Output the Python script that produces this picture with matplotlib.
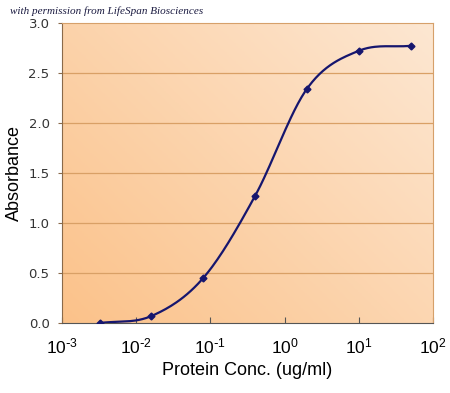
import matplotlib.pyplot as plt
import numpy as np
from matplotlib.colors import LinearSegmentedColormap

# protein concentration (ug/ml) and absorbance
conc = [0.0032, 0.016, 0.08, 0.4, 2.0, 10.0, 50.0]
absorbance = [0.0, 0.07, 0.45, 1.27, 2.34, 2.72, 2.77]

x_ticks = [1e-3, 1e-2, 1e-1, 1e0, 1e1, 1e2]
x_labels = ['$\\mathregular{10^{\\text{-}3}}$', '$\\mathregular{10^{\\text{-}2}}$',
            '$\\mathregular{10^{\\text{-}1}}$', '$\\mathregular{10^{0}}$',
            '$\\mathregular{10^{1}}$', '$\\mathregular{10^{2}}$']
y_ticks = [0.0, 0.5, 1.0, 1.5, 2.0, 2.5, 3.0]


# smoothed line like the spreadsheet one (Catmull-Rom in log x)
def smooth(xs, ys, n=30):
    px = np.log10(xs)
    py = np.array(ys)
    px = np.concatenate([[2 * px[0] - px[1]], px, [2 * px[-1] - px[-2]]])
    py = np.concatenate([[2 * py[0] - py[1]], py, [2 * py[-1] - py[-2]]])
    outx, outy = [], []
    for i in range(1, len(px) - 2):
        t = np.linspace(0, 1, n)
        for p, out in ((px, outx), (py, outy)):
            p0, p1, p2, p3 = p[i - 1], p[i], p[i + 1], p[i + 2]
            out.extend(0.5 * (2 * p1 + (-p0 + p2) * t
                              + (2 * p0 - 5 * p1 + 4 * p2 - p3) * t ** 2
                              + (-p0 + 3 * p1 - 3 * p2 + p3) * t ** 3))
    return 10 ** np.array(outx), np.array(outy)


fig = plt.figure(figsize=(4.5, 3.93), dpi=100)
ax = fig.add_axes([0.138, 0.178, 0.824, 0.764])

# gradient background
cmap = LinearSegmentedColormap.from_list('bg', ['#FBC28A', '#FDE7D2'])
gx, gy = np.meshgrid(np.linspace(0, 1, 200), np.linspace(0, 1, 200))
ax.imshow(0.55 * gx + 0.45 * gy, cmap=cmap, origin='lower', aspect='auto',
          extent=[0, 1, 0, 1], transform=ax.transAxes, zorder=0)

sx, sy = smooth(conc, absorbance)
ax.plot(sx, sy, color='#16166E', lw=1.6, zorder=3)
ax.plot(conc, absorbance, 'D', color='#16166E', ms=3.5, zorder=4)

ax.set_xscale('log')
ax.set_xlim(1e-3, 1e2)
ax.set_ylim(0, 3.0)
ax.set_xticks(x_ticks)
ax.set_xticklabels(x_labels, fontsize=12.5, family='Liberation Sans')
ax.minorticks_off()
ax.set_yticks(y_ticks)
ax.set_yticklabels([f'{v:.1f}' for v in y_ticks], fontsize=9.5, color='#333333')
for v in y_ticks[1:-1]:
    ax.axhline(v, color='#D9A066', lw=0.9, zorder=1)

for s in ax.spines.values():
    s.set_color('#D6A06A')
ax.spines['bottom'].set_color('#555555')
ax.spines['left'].set_color('#8A6A4A')
ax.tick_params(axis='x', direction='in', length=4, color='#555555', pad=10)
ax.tick_params(axis='y', direction='out', length=3, color='#8A6A4A', pad=6)

ax.set_xlabel('Protein Conc. (ug/ml)', fontsize=13, family='Liberation Sans', labelpad=4)
ax.set_ylabel('Absorbance', fontsize=13, family='Liberation Sans', labelpad=4)

fig.text(0.022, 0.985, 'with permission from LifeSpan Biosciences', fontsize=8,
         style='italic', family='Liberation Serif', color='#1A1A40', va='top')

fig.savefig('out.png', dpi=100)
